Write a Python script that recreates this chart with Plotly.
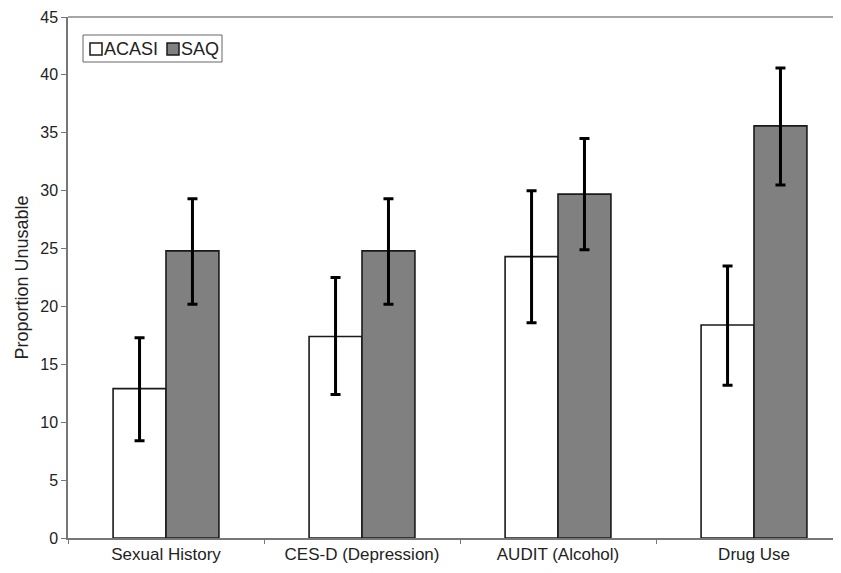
import plotly.graph_objects as go

categories = ["Sexual History", "CES-D (Depression)", "AUDIT (Alcohol)", "Drug Use"]
acasi = [12.9, 17.4, 24.3, 18.4]
acasi_lo = [8.4, 12.4, 18.6, 13.2]
acasi_hi = [17.3, 22.5, 30.0, 23.5]
saq = [24.8, 24.8, 29.7, 35.6]
saq_lo = [20.2, 20.2, 24.9, 30.5]
saq_hi = [29.3, 29.3, 34.5, 40.6]
series_names = ["ACASI", "SAQ"]
series_colors = ["white", "#808080"]

def plus(v, hi):
    return [h - x for x, h in zip(v, hi)]

def minus(v, lo):
    return [x - l for x, l in zip(v, lo)]

W, H = 825, 557
ML, MR, MT, MB = 60, 0, 9, 27
PW, PH = W - ML - MR, H - MT - MB

def px(x):
    return (x - ML) / PW

def py(y):
    return (H - MB - y) / PH

fig = go.Figure()
for name, vals, lo, hi, col in [
    (series_names[0], acasi, acasi_lo, acasi_hi, series_colors[0]),
    (series_names[1], saq, saq_lo, saq_hi, series_colors[1]),
]:
    fig.add_trace(go.Bar(
        name=name, x=categories, y=vals, showlegend=False,
        marker=dict(color=col, line=dict(color="#1a1a1a", width=1.6)),
        error_y=dict(type="data", symmetric=False, array=plus(vals, hi),
                     arrayminus=minus(vals, lo), color="black", thickness=3, width=5),
    ))

shapes = [
    # top frame line
    dict(type="line", xref="paper", yref="paper", x0=0, x1=1.02, y0=1, y1=1,
         line=dict(color="#888", width=1.5)),
    # custom legend (box, swatches)
    dict(type="rect", xref="paper", yref="paper", x0=px(75), x1=px(214), y0=py(27), y1=py(54),
         line=dict(color="#666", width=1), fillcolor="white"),
    dict(type="rect", xref="paper", yref="paper", x0=px(82), x1=px(94), y0=py(35), y1=py(47),
         line=dict(color="#1a1a1a", width=1.5), fillcolor=series_colors[0]),
    dict(type="rect", xref="paper", yref="paper", x0=px(159), x1=px(171), y0=py(35), y1=py(47),
         line=dict(color="#1a1a1a", width=1.5), fillcolor=series_colors[1]),
]
annotations = [
    dict(text=series_names[0], xref="paper", yref="paper", x=px(94), y=py(41),
         xanchor="left", yanchor="middle", showarrow=False, font=dict(size=18, color="#222")),
    dict(text=series_names[1], xref="paper", yref="paper", x=px(171), y=py(41),
         xanchor="left", yanchor="middle", showarrow=False, font=dict(size=18, color="#222")),
]

fig.update_layout(
    width=W, height=H,
    margin=dict(l=ML, r=MR, t=MT, b=MB, autoexpand=False),
    paper_bgcolor="white", plot_bgcolor="white",
    barmode="group", bargap=0.46, bargroupgap=0,
    font=dict(family="Liberation Sans, Arial, sans-serif", size=16, color="#222"),
    showlegend=False,
    shapes=shapes, annotations=annotations,
)
fig.update_xaxes(
    range=[-0.5, 3.403], showline=True, linecolor="#777", linewidth=1.5, mirror=False,
    ticks="outside", tickson="boundaries", ticklen=4, tickcolor="#777",
    showgrid=False, tickfont=dict(size=17), automargin=False,
)
fig.update_yaxes(
    range=[0, 45], dtick=5, showline=True, linecolor="#777", linewidth=1.5,
    ticks="outside", ticklen=5, tickcolor="#777", showgrid=False, zeroline=False,
    title=dict(text="Proportion Unusable", font=dict(size=18), standoff=7),
    tickfont=dict(size=16), automargin=False,
)

fig.write_html("out.html")
